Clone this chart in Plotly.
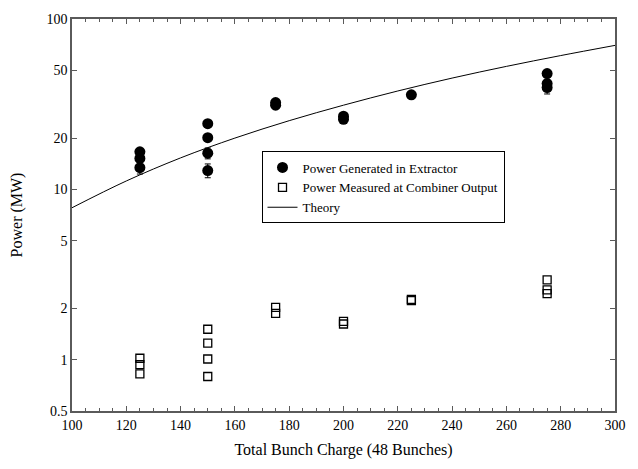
import plotly.graph_objects as go

# Power generated in extractor (filled circles)
ext_charge = [125, 125, 125, 150, 150, 150, 150, 175, 175, 200, 200, 225, 275, 275, 275]
ext_power = [16.6, 15.2, 13.4, 24.3, 20.1, 16.3, 12.9, 31.2, 32.3, 25.8, 26.9, 35.9, 47.8, 41.8, 39.6]
ext_err = [0.5, 0.5, 1.1, 0.6, 0.5, 1.2, 1.2, 0.5, 0.5, 0.4, 0.4, 0.5, 1.0, 1.0, 3.3]

# Power measured at combiner output (open squares)
comb_charge = [125, 125, 125, 150, 150, 150, 150, 175, 175, 200, 200, 225, 225, 275, 275, 275]
comb_power = [1.02, 0.935, 0.826, 1.51, 1.25, 1.01, 0.797, 2.03, 1.87, 1.62, 1.68, 2.22, 2.26, 2.94, 2.57, 2.44]

# Theory curve
theory_charge = [100, 120, 140, 160, 180, 200, 220, 240, 260, 280, 300]
theory_power = [7.8, 11.2, 15.3, 20.0, 25.3, 31.2, 37.8, 45.0, 52.7, 61.0, 70.0]

x_ticks = [100, 120, 140, 160, 180, 200, 220, 240, 260, 280, 300]
y_ticks = [0.5, 1, 2, 5, 10, 20, 50, 100]
y_labels = ["0.5", "1", "2", "5", "10", "20", "50", "100"]

FONT = "Liberation Serif"
AXC = "#5a5a5a"

fig = go.Figure()
fig.add_trace(go.Scatter(
    x=ext_charge, y=ext_power, mode="markers",
    name="Power Generated in Extractor",
    marker=dict(symbol="circle", size=11, color="black"),
    error_y=dict(type="data", array=ext_err, color="black", thickness=1, width=3),
))
fig.add_trace(go.Scatter(
    x=comb_charge, y=comb_power, mode="markers",
    name="Power Measured at Combiner Output",
    marker=dict(symbol="square-open", size=8, color="black", line=dict(width=1.3, color="black")),
))
fig.add_trace(go.Scatter(
    x=theory_charge, y=theory_power, mode="lines",
    name="Theory", line=dict(color="black", width=1, shape="spline"),
))

fig.update_layout(
    width=638, height=469,
    margin=dict(l=72, r=21, t=14, b=58),
    paper_bgcolor="white", plot_bgcolor="white",
    font=dict(family=FONT, size=14, color="black"),
    showlegend=True,
    legend=dict(
        x=0.349, y=0.662, xanchor="left", yanchor="top",
        bordercolor="black", borderwidth=1, bgcolor="white",
        font=dict(family=FONT, size=13, color="black"),
        tracegroupgap=0, itemwidth=30,
    ),
    xaxis=dict(
        range=[100, 300], tickvals=x_ticks, ticks="inside", ticklen=5,
        tickcolor=AXC, showline=True, linecolor=AXC, linewidth=1.5,
        mirror="ticks", showgrid=False, zeroline=False,
        minor=dict(dtick=5, ticks="inside", ticklen=3, tickcolor=AXC, showgrid=False),
        title=dict(text="Total Bunch Charge (48 Bunches)", font=dict(family=FONT, size=16), standoff=12),
        tickfont=dict(family=FONT, size=14),
    ),
    yaxis=dict(
        type="log", range=[-0.30103, 2], tickvals=y_ticks, ticktext=y_labels,
        ticks="inside", ticklen=5, tickcolor=AXC,
        showline=True, linecolor=AXC, linewidth=1.5, mirror="ticks",
        showgrid=False, zeroline=False,
        title=dict(text="Power (MW)", font=dict(family=FONT, size=16), standoff=20),
        tickfont=dict(family=FONT, size=14),
    ),
)

fig.write_html("out.html", config={"displayModeBar": False},
               post_script="document.body.style.margin='0px';")
